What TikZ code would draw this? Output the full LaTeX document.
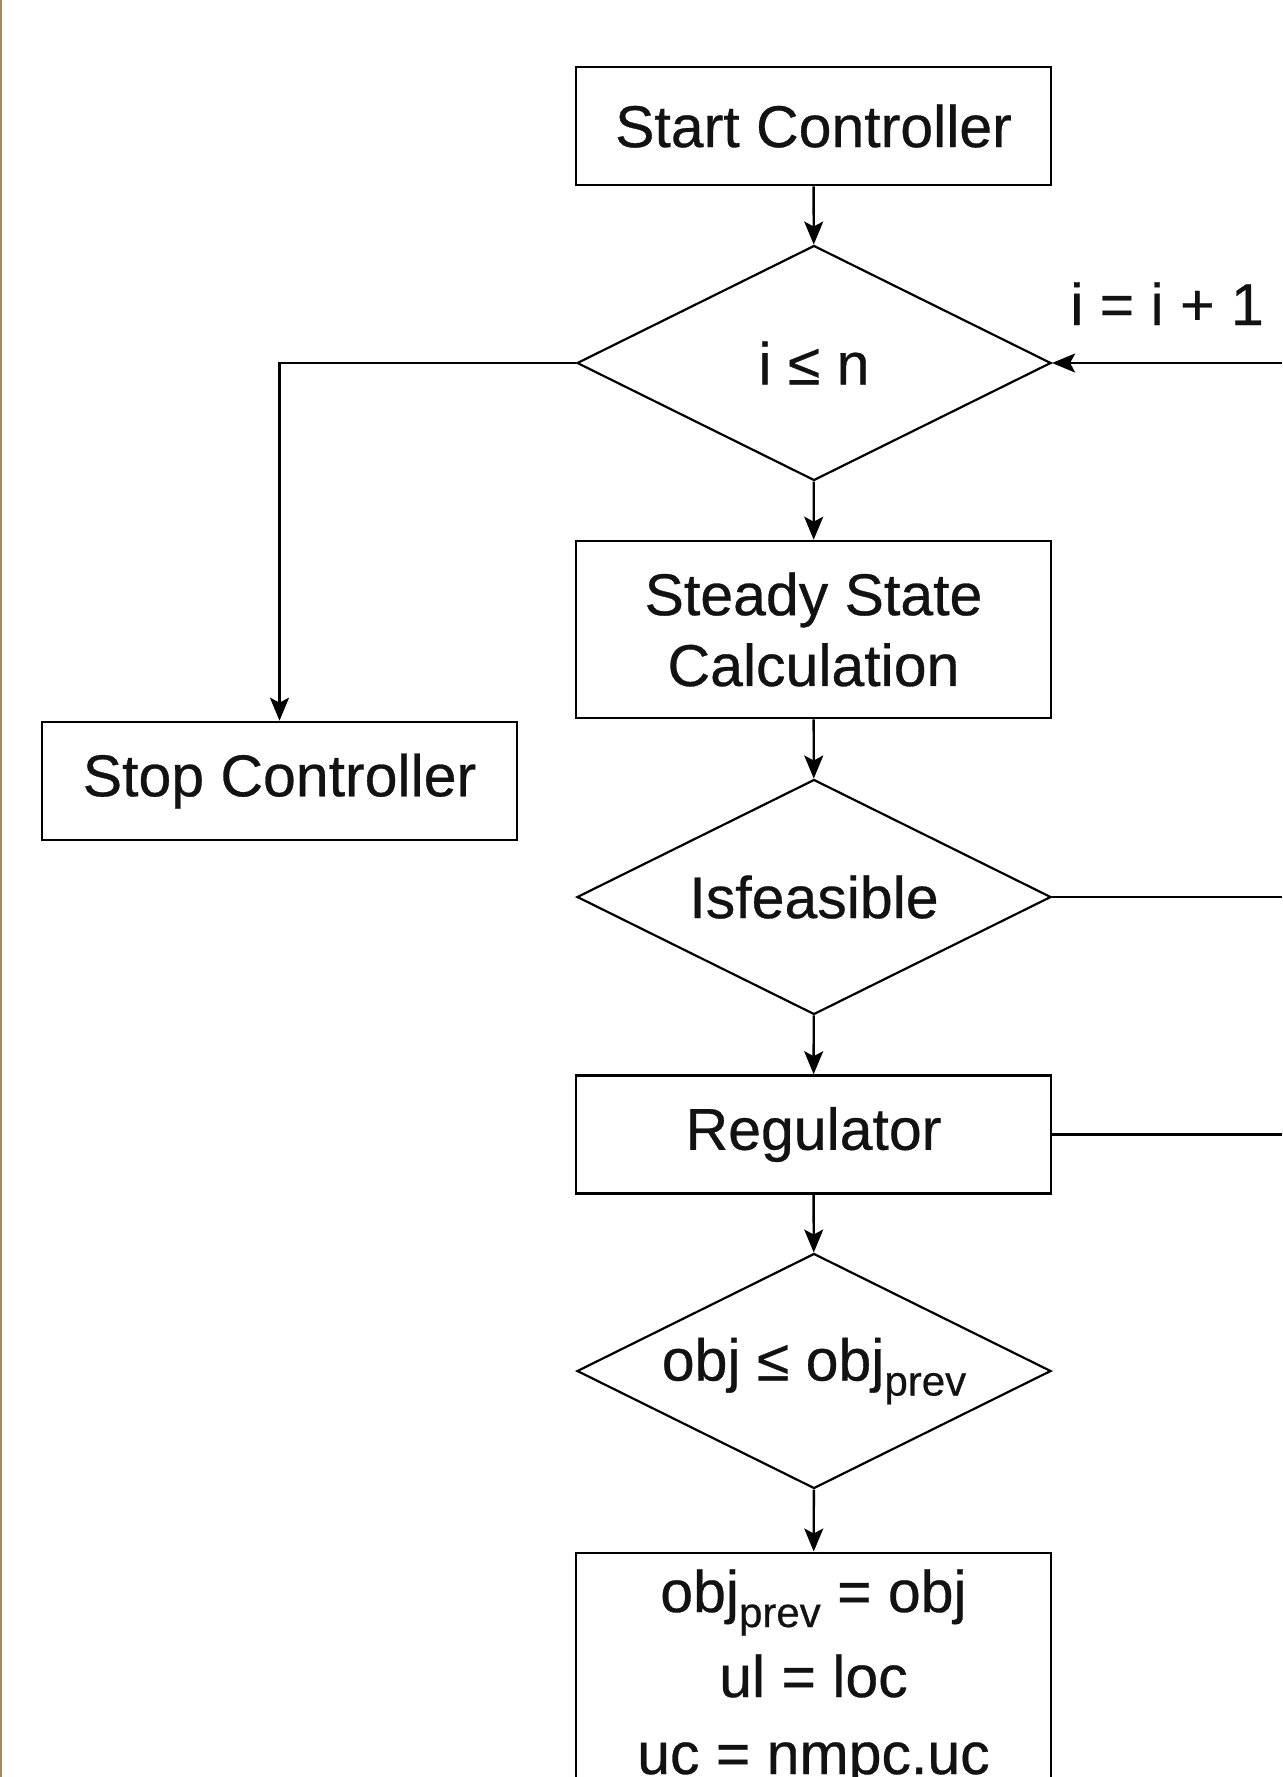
\documentclass[tikz,border=0pt]{standalone}
\usepackage{fontspec}
\setmainfont{Liberation Sans}[UprightFeatures={FakeBold=0.5}]
\usetikzlibrary{shapes.geometric,arrows.meta}

\definecolor{edgebrown}{RGB}{168,136,106}
\definecolor{ink}{RGB}{18,18,18}

% subscript set in a smaller size and lowered below the baseline
\newcommand\lowsub[1]{\raisebox{-7.5pt}{\fontsize{21pt}{25pt}\selectfont #1}}

\tikzset{
  flowtext/.style={font=\fontsize{29.5pt}{35.4pt}\selectfont, text=ink},
  process/.style={flowtext, draw=black, line width=1.3pt, rectangle,
    minimum width=237.5pt, inner sep=0pt, align=center},
  decision/.style={flowtext, draw=black, line width=1.1pt, diamond,
    shape aspect=2, minimum width=237pt, minimum height=117.5pt, inner sep=0pt},
  flow/.style={draw=black, line width=1.2pt,
    -{Stealth[length=11.5pt,width=9.5pt,inset=2.5pt]}},
  plain/.style={draw=black, line width=1.2pt}
}

\begin{document}
\begin{tikzpicture}[x=0.5pt, y=-0.5pt]
  % page frame (1282 x 1777 units)
  \useasboundingbox (0,0) rectangle (1282,1777);
  \clip (0,0) rectangle (1282,1777);
  \fill[white] (0,0) rectangle (1282,1777);
  \fill[edgebrown] (0,0) rectangle (1.6,1777);

  % main column
  \node[process, minimum height=59pt]  (start) at (813.5,126)   {Start Controller};
  \node[decision]                      (cnt)   at (814,363)     {i ≤ n};
  \node[process, minimum height=88.5pt] (ss)   at (813.5,629.5) {Steady State\\Calculation};
  \node[decision]                      (feas)  at (814,897)     {Isfeasible};
  \node[process, minimum height=59pt]  (reg)   at (813.5,1134.5) {Regulator};
  \node[decision]                      (cmp)   at (814,1371)    {obj ≤ obj\lowsub{prev}};
  \node[process, minimum height=140pt, anchor=north] (upd) at (813.5,1551.5) {};

  % assignments inside the update box
  \node[flowtext, anchor=base] (upd1) at (813.5,1612) {obj\lowsub{prev} = obj};
  \node[flowtext, anchor=base] (upd2) at (813.5,1697) {ul = loc};
  \node[flowtext, anchor=base] (upd3) at (813.5,1774) {uc = nmpc.uc};

  % exit branch
  \node[process, minimum height=59pt] (stop) at (279.5,781) {Stop Controller};

  % loop-back ends at the right border
  \coordinate (backin)  at (1282,363);
  \coordinate (feasout) at (1282,897);
  \coordinate (regout)  at (1282,1134.5);

  % connectors
  \draw[flow] (start) -- (cnt);
  \draw[flow] (cnt) -- (ss);
  \draw[flow] (ss) -- (feas);
  \draw[flow] (feas) -- (reg);
  \draw[flow] (reg) -- (cmp);
  \draw[flow] (cmp) -- (upd);
  \draw[flow] (cnt.west) -| (stop.north);
  \draw[flow] (backin) -- (cnt.east);
  \draw[plain] (feas.east) -- (feasout);
  \draw[plain] (reg.east) -- (regout);

  % loop label
  \node[flowtext, anchor=base] (incr) at (1167,325) {i = i + 1};
\end{tikzpicture}
\end{document}
